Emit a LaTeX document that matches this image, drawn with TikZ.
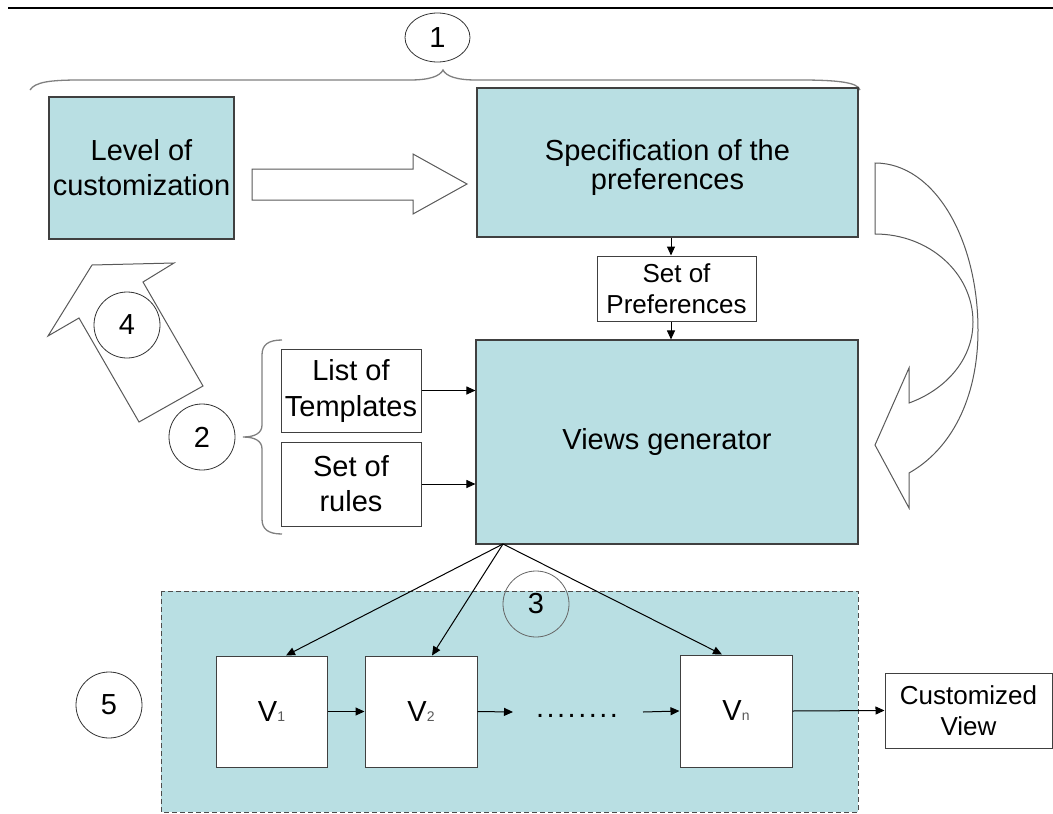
\documentclass[tikz,border=0pt]{standalone}
\usepackage{fontspec}
\setmainfont{Liberation Sans}
\usetikzlibrary{arrows.meta,shapes.geometric}
\definecolor{boxblue}{RGB}{185,223,227}
\newcommand{\vsub}[1]{{\fontsize{14}{14}\selectfont\color{black!65}#1}}
\begin{document}
\begin{tikzpicture}[x=1pt,y=-1pt,
  bluebox/.style={draw=black!75, line width=1.1pt, fill=boxblue, align=center, inner sep=0pt, font=\fontsize{29}{35}\selectfont},
  whitebox/.style={draw=black!75, line width=1pt, fill=white, align=center, inner sep=0pt},
  numcirc/.style={circle, draw=black!80, line width=0.8pt, minimum size=66pt, inner sep=0pt, font=\fontsize{29}{29}\selectfont},
  conn/.style={line width=1pt, -{Triangle[length=9pt,width=8pt]}},
  outline/.style={draw=black!65, line width=1pt, fill=white},
  bracestyle/.style={draw=black!50, line width=1.3pt}]
\useasboundingbox (0,0) rectangle (1053,814);

% top rule
\draw[line width=2pt] (8,8) -- (1053,8);

% top brace and label 1
\draw[bracestyle] (30,90) .. controls (35,82) and (50,80) .. (80,80) -- (410,80)
  .. controls (430,80) and (440,76) .. (443,70)
  .. controls (446,76) and (456,80) .. (476,80) -- (800,80)
  .. controls (835,80) and (858,82) .. (860,90);
\node[ellipse, draw=black!80, line width=0.8pt, minimum width=65pt, minimum height=49pt, inner sep=0pt, font=\fontsize{29}{29}\selectfont] (c1) at (437.5,37.5) {1};

% main boxes
\node[bluebox, minimum width=185pt, minimum height=142pt] (lev) at (141.5,168) {Level of\\customization};
\node[bluebox, minimum width=381pt, minimum height=149pt, font=\fontsize{29}{28.5}\selectfont] (spec) at (667.5,162.5) {\rule{0pt}{31pt}Specification of the\\preferences};
\node[whitebox, minimum width=159pt, minimum height=65pt, font=\fontsize{26}{31}\selectfont] (setp) at (676.5,288.5) {Set of\\Preferences};
\node[bluebox, minimum width=382pt, minimum height=204pt] (vg) at (667,442) {Views generator};
\node[whitebox, minimum width=140pt, minimum height=83pt, font=\fontsize{29}{36}\selectfont] (list) at (351,390.5) {List of\\Templates};
\node[whitebox, minimum width=140pt, minimum height=84pt, font=\fontsize{29}{35}\selectfont] (rules) at (351,484) {Set of\\rules};

% block arrow right
\draw[outline] (252,169) -- (413,169) -- (413,154) -- (467,184) -- (413,214) -- (413,200) -- (252,200) -- cycle;

% up-left block arrow
\draw[outline] (48,336) -- (92,265) -- (174,263) -- (143,282) -- (203,386) -- (139,422) -- (79,318) -- cycle;

% curved block arrow on the right
\draw[outline] (875,163) .. controls (935,163) and (978,240) .. (978,330)
  .. controls (978,400) and (950,450) .. (909,473)
  -- (909,508) -- (875,445) -- (909,368) -- (909,403)
  .. controls (945,390) and (973,360) .. (973,322)
  .. controls (973,273) and (929,234) .. (875,234) -- cycle;

% left brace
\draw[bracestyle] (282,340) .. controls (268,340) and (262,345) .. (262,355) -- (262,425)
  .. controls (262,433) and (255,437) .. (243,437)
  .. controls (255,437) and (262,441) .. (262,449) -- (262,519)
  .. controls (262,529) and (268,534) .. (282,534);

% numbered circles
\node[numcirc] (c4) at (127,325) {4};
\node[numcirc] (c2) at (202,437) {2};
\node[numcirc] (c5) at (109,705) {5};

% connectors in upper part
\coordinate (ax) at (671,0);
\draw[conn] (spec.south -| ax) -- (setp.north -| ax);
\draw[conn] (setp.south -| ax) -- (vg.north -| ax);
\draw[conn] (list.east) -- (list.east -| vg.west);
\draw[conn] (rules.east) -- (rules.east -| vg.west);

% dashed region of views
\path[draw=black!70, dash pattern=on 5pt off 3pt, line width=1pt, fill=boxblue] (161,591) rectangle (858,812);

\node[whitebox, minimum width=111pt, minimum height=111pt, font=\fontsize{29}{29}\selectfont] (v1) at (271.5,711.5) {V\vsub{1}};
\node[whitebox, minimum width=112pt, minimum height=111pt, font=\fontsize{29}{29}\selectfont] (v2) at (421,711.5) {V\vsub{2}};
\node[whitebox, minimum width=112pt, minimum height=112pt, font=\fontsize{29}{29}\selectfont] (vn) at (736,711) {V\vsub{n}};
\node[anchor=base, inner sep=0pt, font=\fontsize{29}{29}\selectfont] (dots) at (577,717) {.\kern2.5pt.\kern2.5pt.\kern2.5pt.\kern2.5pt.\kern2.5pt.\kern2.5pt.\kern2.5pt.};
\node[whitebox, minimum width=167pt, minimum height=75pt, font=\fontsize{26}{31}\selectfont] (cv) at (968.5,710.5) {Customized\\View};

\node[numcirc, draw=black!60] (c3) at (536,604) {3};

% fan of arrows from views generator
\coordinate (fan) at (503,544);
\draw[conn] (fan) -- ([xshift=14.5pt]v1.north);
\draw[conn] (fan) -- ([xshift=11pt]v2.north);
\draw[conn] (fan) -- ([xshift=-14pt]vn.north);

% chain of views
\coordinate (d1) at (513,712);
\coordinate (d2) at (643,712);
\draw[conn] (v1.east) -- (v2.west);
\draw[conn] (v2.east) -- (d1);
\draw[conn] (d2) -- (vn.west);
\draw[conn] (vn.east) -- (cv.west);
\end{tikzpicture}
\end{document}
